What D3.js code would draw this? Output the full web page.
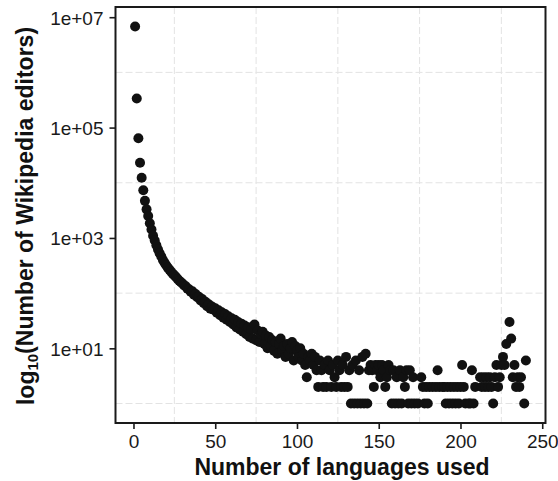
<!DOCTYPE html>
<html>
<head>
<meta charset="utf-8">
<script src="https://cdn.jsdelivr.net/npm/d3@7"></script>
<style>
  html, body { margin: 0; padding: 0; background: #fff; }
  svg { display: block; }
</style>
</head>
<body>
<svg id="chart" width="558" height="481"></svg>
<script>
// Number of languages an editor contributes in (x) against how many editors do so (y)
const languages = [
  1,2,3,4,5,6,7,8,9,10,11,12,13,14,15,16,17,18,19,20,
  21,22,23,24,25,26,27,28,29,30,31,32,33,34,35,36,37,38,39,40,
  41,42,43,44,45,46,47,48,49,50,51,52,53,54,55,56,57,58,59,60,
  61,62,63,64,65,66,67,68,69,70,71,72,73,74,75,76,77,78,79,80,
  81,82,83,84,85,86,87,88,89,90,91,92,93,94,95,96,97,98,99,100,
  101,102,103,104,105,106,107,108,109,110,111,112,113,114,115,116,117,118,119,120,
  121,122,123,124,125,126,127,128,129,130,131,132,133,134,135,136,137,138,139,140,
  141,142,143,144,145,146,147,148,149,150,151,152,153,154,155,156,157,158,159,160,
  161,162,163,164,165,166,167,168,169,170,171,172,174,176,177,178,179,180,181,183,
  185,186,187,189,190,191,192,193,194,195,196,197,198,199,200,201,202,203,205,206,
  207,208,209,212,213,214,215,216,217,218,219,220,221,222,223,224,225,226,227,228,
  230,231,232,233,234,235,236,237,239,240
];
const editors = [
  6800000,336000,64000,23000,12300,7300,4700,3300,2500,1850,1420,1100,900,740,620,530,460,400,355,320,
  290,265,245,225,210,196,180,168,158,150,138,133,120,118,106,108,94,96,84,86,
  74,78,66,70,58,63,52,57,50,53,44,49,40,45,36,42,33,38,30,35,
  27,33,24,30,22,28,20,26,18,24,16,22,15,27,14,21,13,18,20,12,
  17,10,16,11,14,9,13,8,12,15,9,11,7,12,8,10,13,6,11,9,
  7,10,6,8,5,3,7,6,8,5,7,4,2,6,4,2,5,2,6,4,
  2,5,3,2,6,4,2,5,2,7,2,4,1,5,1,6,1,4,1,7,
  1,8,1,4,5,4,2,5,4,5,3,5,4,2,3,5,4,1,4,1,
  3,1,4,1,3,2,4,1,4,1,3,1,1,3,2,1,2,1,2,2,
  2,4,2,2,2,1,2,1,2,1,2,1,2,1,2,5,2,1,1,1,
  4,1,2,3,2,3,2,3,2,3,2,1,3,5,2,3,5,7,5,12,
  30,15,3,5,2,3,2,3,1,6
];
const xTicks = [0, 50, 100, 150, 200, 250];
const yTicks = [1e1, 1e3, 1e5, 1e7];
const xGrid = [25, 75, 125, 175, 225];
const yGrid = [1e0, 1e2, 1e4, 1e6];
const xTitle = "Number of languages used";

const points = languages.map((d, i) => ({ x: d, y: editors[i] }));

const svg = d3.select("#chart");
const panel = { left: 115.5, right: 545.5, top: 7, bottom: 423 };

const x = d3.scaleLinear().domain([-11, 252]).range([panel.left, panel.right]);
const y = d3.scaleLog().domain([Math.pow(10, -0.353), Math.pow(10, 7.185)]).range([panel.bottom, panel.top]);

const font = "'Liberation Sans', Arial, Helvetica, sans-serif";

// faint grid lines between the labelled ticks
const grid = svg.append("g").attr("stroke", "#e3e3e3").attr("stroke-width", 1).attr("stroke-dasharray", "7,3");
grid.selectAll("line.v").data(xGrid).join("line")
  .attr("x1", d => x(d)).attr("x2", d => x(d))
  .attr("y1", panel.top).attr("y2", panel.bottom);
grid.selectAll("line.h").data(yGrid).join("line")
  .attr("x1", panel.left).attr("x2", panel.right)
  .attr("y1", d => y(d)).attr("y2", d => y(d));

// scatter points
svg.append("g").selectAll("circle").data(points).join("circle")
  .attr("cx", d => x(d.x))
  .attr("cy", d => y(d.y))
  .attr("r", 5)
  .attr("fill", "#111");

// panel border
svg.append("rect")
  .attr("x", panel.left).attr("y", panel.top)
  .attr("width", panel.right - panel.left).attr("height", panel.bottom - panel.top)
  .attr("fill", "none").attr("stroke", "#1a1a1a").attr("stroke-width", 2);

// axes
const xAxis = svg.append("g")
  .attr("transform", `translate(0,${panel.bottom})`)
  .call(d3.axisBottom(x).tickValues(xTicks).tickSize(6).tickPadding(6).tickFormat(d3.format("d")));
const yAxis = svg.append("g")
  .attr("transform", `translate(${panel.left},0)`)
  .call(d3.axisLeft(y).tickValues(yTicks).tickSize(6).tickPadding(6)
    .tickFormat(d => "1e+" + String(Math.round(Math.log10(d))).padStart(2, "0")));

[xAxis, yAxis].forEach(a => {
  a.select(".domain").remove();
  a.selectAll(".tick line").attr("stroke", "#1a1a1a").attr("stroke-width", 1.6);
  a.selectAll(".tick text").attr("fill", "#1a1a1a").style("font-family", font).style("font-size", "19px");
});
xAxis.selectAll(".tick text").attr("dy", null).attr("y", 25);
yAxis.selectAll(".tick text").attr("dy", "0.36em");

// axis titles
svg.append("text")
  .attr("x", 342).attr("y", 475)
  .attr("text-anchor", "middle")
  .style("font-family", font).style("font-size", "23px").style("font-weight", "bold")
  .attr("fill", "#111")
  .text(xTitle);

const yTitle = svg.append("text")
  .attr("transform", "translate(33.5,216) rotate(-90)")
  .attr("text-anchor", "middle")
  .style("font-family", font).style("font-size", "23px").style("font-weight", "bold")
  .attr("fill", "#111");
yTitle.append("tspan").text("log");
yTitle.append("tspan").attr("dy", "0.3em").style("font-size", "15px").text("10");
yTitle.append("tspan").attr("dy", "-0.2em").text("(Number of Wikipedia editors)");
</script>
</body>
</html>
